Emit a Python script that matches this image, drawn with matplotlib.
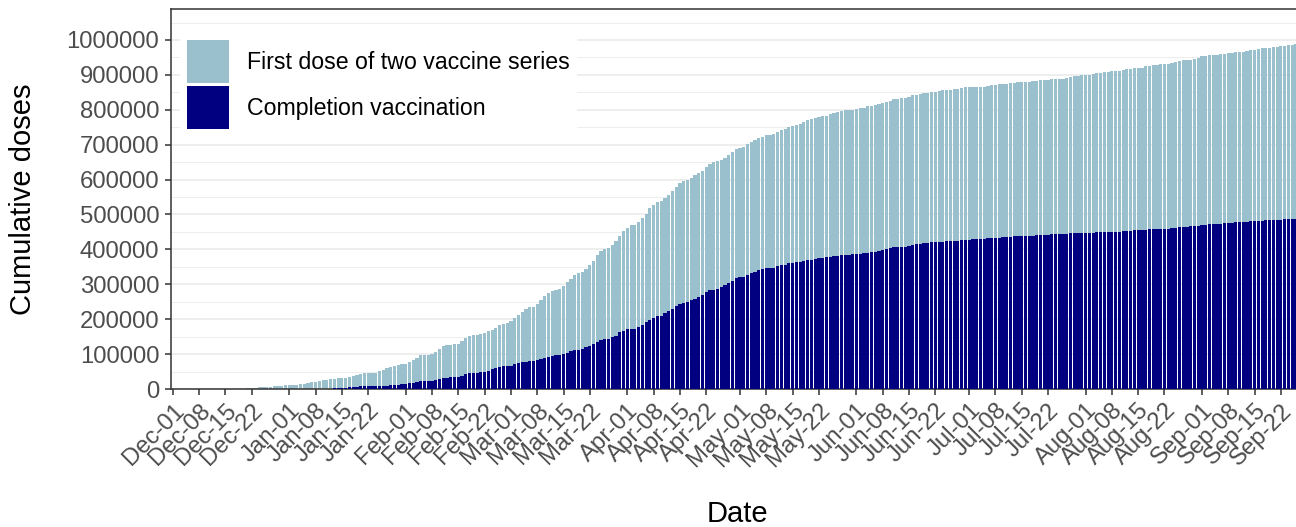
import numpy as np
import pandas as pd
import matplotlib
matplotlib.use("Agg")
import matplotlib.pyplot as plt
from matplotlib.patches import Patch

# ----------------------------- data -----------------------------------------
START = "2020-12-01"          # first day on the axis, one value per day after
# cumulative first doses (thousands)
first_dose_k = [
    0, 0, 0, 0, 0, 0, 0, 0, 0, 0,
    0, 0, 0, 0, 0, 0, 0, 0, 0, 0,
    2, 3.8, 4, 4.5, 4.8, 4.8, 5, 7.6, 8.6, 10,
    10.5, 10.5, 10.8, 11.5, 13.4, 15.3, 17.2, 19, 21, 22.9,
    24.8, 26.5, 28.5, 30, 31.5, 32, 32.4, 33, 36.3, 39,
    42, 45, 46, 46.5, 47, 50.6, 55, 59, 63, 67,
    69, 70.6, 71.6, 76, 82, 90, 97, 97, 97, 99,
    105, 116, 123, 126, 127, 128, 130, 137, 145, 152,
    154, 155, 157, 160, 165, 170, 176, 184, 187, 189,
    195, 203, 212, 221, 230, 234, 236, 243, 256, 266,
    276, 281, 284, 287, 294, 306, 315, 326, 332, 335,
    345, 356, 368, 383, 394, 400, 404, 414, 425, 439,
    452, 461, 469, 469, 478, 490, 502, 518, 528, 536,
    540, 547, 557, 568, 578, 590, 595, 598, 606, 614,
    619, 626, 635, 644, 649, 652, 657, 663, 671, 680,
    687, 690, 694, 702, 707, 714, 719, 723, 727, 728,
    730, 737, 743, 746, 752, 754, 756, 759, 764, 770,
    773, 776, 780, 781, 783, 787, 790, 794, 797, 798,
    799, 799, 802, 805, 806, 810, 812, 814, 817, 820,
    823, 826, 830, 831, 833, 835, 836, 841, 843, 845,
    847, 849, 851, 852, 855, 856, 857, 857, 859, 860,
    862, 864, 864.5, 865.5, 866, 866, 866.5, 868, 870, 872,
    873, 874, 875, 877, 878, 879, 880, 881, 881, 882,
    883, 884, 885, 886, 887, 887.5, 888, 888.5, 890, 894,
    896, 898, 899.5, 900, 900.5, 903, 904, 906.5, 907.5, 909,
    910, 911, 912, 915, 916, 917, 919, 920, 921, 925,
    926.5, 928, 929, 930, 931, 932, 935, 936, 940, 941.5,
    942.5, 943.5, 945, 947, 954, 955, 956, 957, 958, 959,
    960, 962, 964, 965, 966, 966.5, 968, 970, 971, 974,
    976, 977, 978, 980, 981, 982, 984, 985.5, 987, 988,
    989,
]
# cumulative completed vaccinations (thousands)
completed_k = [
    0, 0, 0, 0, 0, 0, 0, 0, 0, 0,
    0, 0, 0, 0, 0, 0, 0, 0, 0, 0,
    0, 0, 0, 0, 0, 0, 0, 0, 0, 0,
    0, 0, 0, 0, 0, 0, 0, 0, 0, 0,
    0, 0, 1, 2.5, 3, 3, 3.5, 4.5, 5.5, 6.5,
    7.5, 7.5, 7.5, 8, 9, 9.5, 9.5, 10, 12, 12.5,
    12.5, 13, 14, 16, 17.5, 19, 22, 23, 23, 23.5,
    26, 28, 31, 32, 33, 33.5, 34, 38, 42, 46,
    47, 47, 48, 50, 53, 57, 61, 64, 65, 66,
    67, 72, 74, 77, 78, 79, 80, 82, 85, 89,
    92, 95, 96, 97, 100, 104, 109, 113, 113, 115,
    120, 124, 130, 135, 139, 142, 144, 148, 153, 164,
    167, 171, 172, 172, 177, 183, 191, 199, 204, 208,
    210, 217, 223, 230, 237, 244, 247, 249, 255, 259,
    263, 269, 277, 283, 285, 287, 293, 299, 305, 310,
    318, 320, 322, 327, 331, 336, 341, 344, 346, 347,
    348, 351, 354, 356, 360, 362, 363, 364, 366, 369,
    371, 373, 375, 376, 377, 379, 380, 382, 384, 384.5,
    385, 385.5, 386.5, 388, 389, 391, 392, 393, 396, 398,
    400, 403, 406, 407, 407.5, 408, 408.5, 412, 415, 416,
    417, 419, 420, 421, 421.5, 422, 423, 424, 424.5, 425,
    425.5, 427, 428, 429, 429.5, 430, 430.5, 432, 433, 433.5,
    434, 434.5, 435, 436, 437, 437.5, 438, 438, 438.5, 439,
    440, 441, 441.5, 442, 443.5, 444, 444.5, 445, 445.5, 446,
    446.5, 447, 447, 447.5, 448, 448, 448.5, 449, 449, 449.5,
    450, 450, 450.5, 452, 453, 454, 455, 455.5, 456, 457,
    457.5, 458, 458, 458.5, 459, 459.5, 461, 462, 463, 464,
    465, 466, 467, 468, 470, 471, 472, 473, 473.5, 474,
    475, 476, 477, 478, 478.5, 479, 479.5, 480, 481, 481.5,
    482, 483, 483.5, 484, 484.5, 485, 486, 486.5, 487, 487.5,
    488,
]
TICK_MONTHS = ["2020-12", "2021-01", "2021-02", "2021-03", "2021-04",
               "2021-05", "2021-06", "2021-07", "2021-08", "2021-09"]
TICK_DAYS = [1, 8, 15, 22]
Y_TICKS = list(range(0, 1000001, 100000))
SERIES = ["First dose of two vaccine series", "Completion vaccination"]
COLORS = ["#9AC0CD", "#000080"]

# ----------------------------- plotting -------------------------------------
plt.rcParams["font.family"] = ["Liberation Sans", "DejaVu Sans"]

dates = pd.date_range(START, periods=len(first_dose_k), freq="D")
first = np.asarray(first_dose_k) * 1000
done = np.asarray(completed_k) * 1000

W, H = 1296, 527
PX_DAY = 3.756
x0 = pd.Timestamp(START) - pd.Timedelta(hours=12)
x1 = pd.Timestamp(START) + pd.Timedelta(days=302)
ax_w = PX_DAY * 302.5

fig = plt.figure(figsize=(W / 100, H / 100), dpi=100)
ax = fig.add_axes([171 / W, 138 / H, ax_w / W, 380 / H])

ax.bar(dates, first, width=0.85, color=COLORS[0], linewidth=0, zorder=2)
ax.bar(dates, done, width=0.85, color=COLORS[1], linewidth=0, zorder=3)

ax.set_xlim(x0, x1)
ax.set_ylim(0, 1.0888e6)

ticks = [pd.Timestamp(f"{m}-{d:02d}") for m in TICK_MONTHS for d in TICK_DAYS]
ax.set_xticks(ticks)
ax.set_xticklabels([t.strftime("%b-%d") for t in ticks], rotation=45,
                   ha="right", va="top", rotation_mode="anchor")
ax.set_yticks(Y_TICKS)
ax.set_yticklabels([str(v) for v in Y_TICKS])
ax.set_yticks(np.arange(50000, 1.08e6, 100000), minor=True)

ax.grid(axis="y", which="major", color="#EBEBEB", lw=1.2, zorder=0)
ax.grid(axis="y", which="minor", color="#EBEBEB", lw=0.6, zorder=0)
ax.set_axisbelow(True)

for s in ax.spines.values():
    s.set_color("#333333")
    s.set_linewidth(1.1)
ax.tick_params(axis="both", which="major", length=4.5, width=1.1,
               color="#333333", labelsize=17.2, labelcolor="#4D4D4D", pad=3)
ax.tick_params(axis="y", which="major", pad=4)
ax.tick_params(axis="y", which="minor", length=0)

ax.set_xlabel("Date", fontsize=21)
ax.set_ylabel("Cumulative doses", fontsize=21)
ax.xaxis.set_label_coords(737 / W, 1 - 500 / H, transform=fig.transFigure)
ax.yaxis.set_label_coords(37 / W, 1 - 199 / H, transform=fig.transFigure)

handles = [Patch(facecolor=c, edgecolor="none") for c in COLORS]
ax.legend(handles, SERIES, loc="upper left",
          bbox_to_anchor=(180 / W, 1 - 33 / H), bbox_transform=fig.transFigure,
          fontsize=16.7, frameon=True, facecolor="white", edgecolor="none",
          framealpha=1, fancybox=False, borderpad=0.3, borderaxespad=0,
          handlelength=1.81, handleheight=2.474, handletextpad=0.78,
          labelspacing=0.13)

fig.savefig("out.png", dpi=100)
